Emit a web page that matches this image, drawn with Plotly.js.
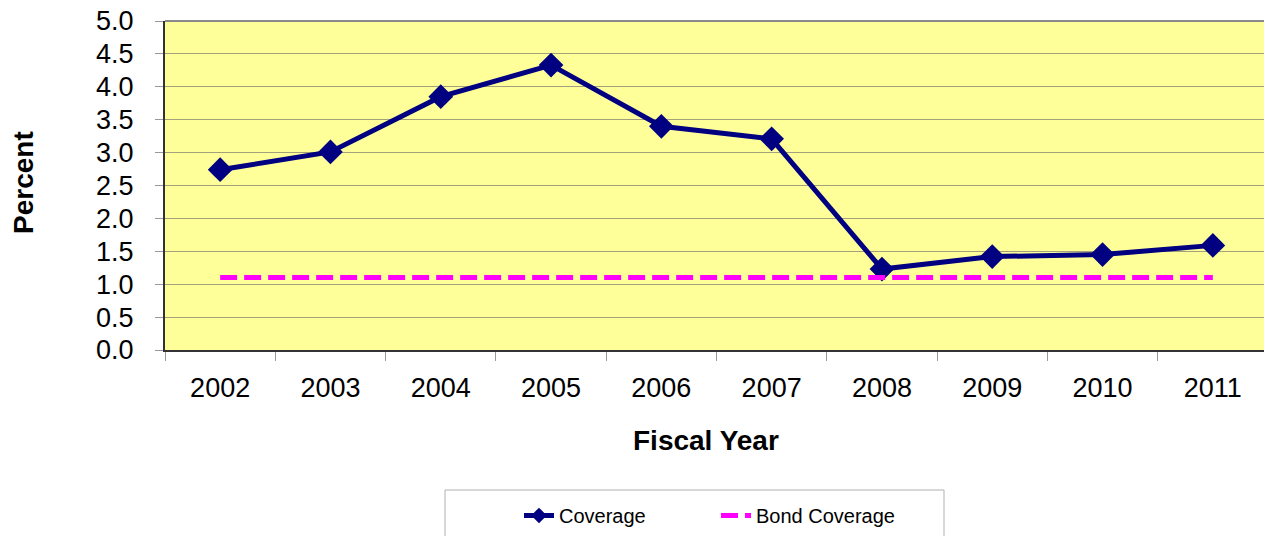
<!DOCTYPE html>
<html>
<head>
<meta charset="utf-8">
<script src="https://cdn.plot.ly/plotly-3.0.1.min.js"></script>
<style>html,body{margin:0;padding:0;background:#fff;}#chart{width:1264px;height:536px;}</style>
</head>
<body>
<div id="chart"></div>
<script>
const years = ['2002','2003','2004','2005','2006','2007','2008','2009','2010','2011'];
const coverage = [2.74, 3.01, 3.85, 4.33, 3.40, 3.21, 1.23, 1.42, 1.45, 1.59];
const bondCoverage = [1.1, 1.1, 1.1, 1.1, 1.1, 1.1, 1.1, 1.1, 1.1, 1.1];
const yTicks = [0, 0.5, 1, 1.5, 2, 2.5, 3, 3.5, 4, 4.5, 5];

const FONT = 'Liberation Sans, Arial, sans-serif';
const L = 165, R = 0, T = 21, B = 186, W = 1264, H = 536;
const catW = 110.3;
const plotW = W - L - R;
const xMax = -0.5 + plotW / catW;

const traces = [
  {
    x: years, y: coverage, name: 'Coverage', type: 'scatter', mode: 'lines+markers',
    line: {color: '#000080', width: 5},
    marker: {symbol: 'diamond', size: 19, color: '#000080'}
  },
  {
    x: years, y: bondCoverage, name: 'Bond Coverage', type: 'scatter', mode: 'lines',
    line: {color: '#FF00FF', width: 5, dash: '17px,7px'}
  }
];

const layout = {
  width: W, height: H,
  margin: {l: L, r: R, t: T, b: B, pad: 0},
  paper_bgcolor: '#FFFFFF',
  plot_bgcolor: '#FFFF99',
  font: {family: FONT, color: '#000000'},
  showlegend: true,
  legend: {
    orientation: 'h', x: (519 - L) / plotW, xanchor: 'left',
    y: (H - B - 496) / (H - T - B), yanchor: 'top',
    font: {family: FONT, size: 20, color: '#000'},
    bgcolor: 'rgba(0,0,0,0)', borderwidth: 0,
    itemsizing: 'constant',
    entrywidth: 152, entrywidthmode: 'pixels'
  },
  xaxis: {
    type: 'category', range: [-0.5, xMax], fixedrange: true,
    showline: true, linecolor: '#333333', linewidth: 2,
    ticks: 'outside', tickson: 'boundaries', ticklen: 9, tickcolor: '#999999', tickwidth: 1,
    showgrid: false, zeroline: false,
    tickfont: {family: FONT, size: 27, color: '#000'},
    ticklabelstandoff: 13
  },
  yaxis: {
    range: [0, 5], fixedrange: true,
    tickmode: 'array', tickvals: yTicks, tickformat: '.1f',
    showline: true, linecolor: '#333333', linewidth: 2,
    ticks: 'outside', ticklen: 8, tickcolor: '#999999', tickwidth: 1,
    showgrid: true, gridcolor: '#a3a07c', gridwidth: 1,
    zeroline: false,
    tickfont: {family: FONT, size: 27, color: '#000'},
    ticklabelstandoff: 16
  },
  shapes: [
    {type: 'line', xref: 'paper', yref: 'paper', x0: 0, x1: 1, y0: 1, y1: 1,
     line: {color: '#8a8a8a', width: 2}},
    {type: 'rect', xref: 'paper', yref: 'paper',
     x0: (445 - L) / plotW, x1: (944 - L) / plotW,
     y0: (H - B - 490) / (H - T - B), y1: (H - B - 560) / (H - T - B),
     line: {color: '#b0b0b0', width: 1}, fillcolor: 'rgba(0,0,0,0)'}
  ],
  annotations: [
    {text: '<b>Fiscal Year</b>', xref: 'paper', yref: 'paper',
     x: (706 - L) / plotW, y: (H - B - 440) / (H - T - B), xanchor: 'center', yanchor: 'middle',
     showarrow: false, font: {family: FONT, size: 28, color: '#000'}},
    {text: '<b>Percent</b>', xref: 'paper', yref: 'paper', textangle: -90,
     x: (23 - L) / plotW, y: (H - B - 183) / (H - T - B), xanchor: 'center', yanchor: 'middle',
     showarrow: false, font: {family: FONT, size: 28, color: '#000'}}
  ]
};

Plotly.newPlot('chart', traces, layout, {displayModeBar: false, staticPlot: true});
</script>
</body>
</html>
